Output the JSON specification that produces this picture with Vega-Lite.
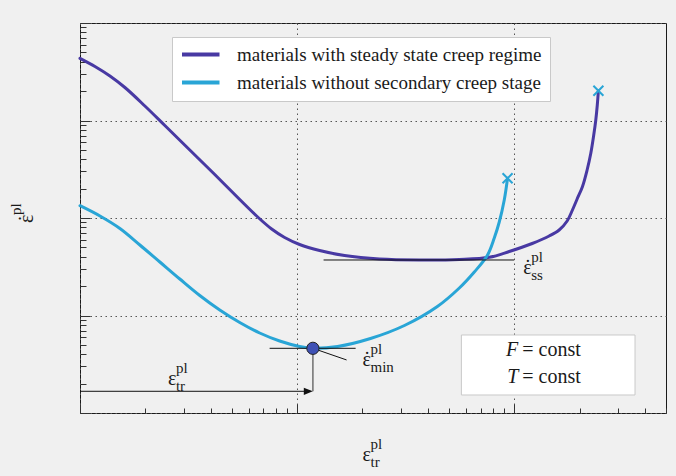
{
  "$schema": "https://vega.github.io/schema/vega-lite/v6.json",
  "width": 586,
  "height": 390,
  "autosize": {"type": "none"},
  "padding": {"left": 80, "top": 23, "right": 10, "bottom": 63},
  "background": "#f0f0f0",
  "config": {
    "view": {"stroke": "#1a1a1a", "strokeWidth": 1},
    "font": "Liberation Serif"
  },
  "datasets": {
    "curves": [
      {"series": "materials with steady state creep regime", "x": 1, "y": 4.3446},
      {"series": "materials with steady state creep regime", "x": 1.1721, "y": 3.5797},
      {"series": "materials with steady state creep regime", "x": 1.3738, "y": 2.8603},
      {"series": "materials with steady state creep regime", "x": 1.6103, "y": 2.18},
      {"series": "materials with steady state creep regime", "x": 1.9901, "y": 1.4084},
      {"series": "materials with steady state creep regime", "x": 2.4593, "y": 0.8886},
      {"series": "materials with steady state creep regime", "x": 3.2044, "y": 0.4982},
      {"series": "materials with steady state creep regime", "x": 4.1754, "y": 0.2794},
      {"series": "materials with steady state creep regime", "x": 5.4404, "y": 0.1548},
      {"series": "materials with steady state creep regime", "x": 6.5822, "y": 0.1024},
      {"series": "materials with steady state creep regime", "x": 7.6342, "y": 0.07712},
      {"series": "materials with steady state creep regime", "x": 8.7605, "y": 0.0631},
      {"series": "materials with steady state creep regime", "x": 10.268, "y": 0.05348},
      {"series": "materials with steady state creep regime", "x": 12.69, "y": 0.04642},
      {"series": "materials with steady state creep regime", "x": 16.535, "y": 0.04125},
      {"series": "materials with steady state creep regime", "x": 23.95, "y": 0.03797},
      {"series": "materials with steady state creep regime", "x": 36.578, "y": 0.03709},
      {"series": "materials with steady state creep regime", "x": 55.863, "y": 0.03753},
      {"series": "materials with steady state creep regime", "x": 76.747, "y": 0.03953},
      {"series": "materials with steady state creep regime", "x": 94.844, "y": 0.04533},
      {"series": "materials with steady state creep regime", "x": 120.99, "y": 0.05476},
      {"series": "materials with steady state creep regime", "x": 144.85, "y": 0.06537},
      {"series": "materials with steady state creep regime", "x": 161.03, "y": 0.07532},
      {"series": "materials with steady state creep regime", "x": 175.26, "y": 0.09316},
      {"series": "materials with steady state creep regime", "x": 185.38, "y": 0.1208},
      {"series": "materials with steady state creep regime", "x": 194.83, "y": 0.1566},
      {"series": "materials with steady state creep regime", "x": 206.07, "y": 0.2094},
      {"series": "materials with steady state creep regime", "x": 216.59, "y": 0.3107},
      {"series": "materials with steady state creep regime", "x": 225.24, "y": 0.4609},
      {"series": "materials with steady state creep regime", "x": 232.02, "y": 0.6935},
      {"series": "materials with steady state creep regime", "x": 237.48, "y": 1.0119},
      {"series": "materials with steady state creep regime", "x": 241.28, "y": 1.442},
      {"series": "materials with steady state creep regime", "x": 244.11, "y": 2.0213},
      {"series": "materials without secondary creep stage", "x": 1, "y": 0.1337},
      {"series": "materials without secondary creep stage", "x": 1.2358, "y": 0.10483},
      {"series": "materials without secondary creep stage", "x": 1.5272, "y": 0.07804},
      {"series": "materials without secondary creep stage", "x": 1.8873, "y": 0.052854},
      {"series": "materials without secondary creep stage", "x": 2.3325, "y": 0.035377},
      {"series": "materials without secondary creep stage", "x": 2.8825, "y": 0.023679},
      {"series": "materials without secondary creep stage", "x": 3.5622, "y": 0.016037},
      {"series": "materials without secondary creep stage", "x": 4.4023, "y": 0.011387},
      {"series": "materials without secondary creep stage", "x": 5.4404, "y": 0.0084764},
      {"series": "materials without secondary creep stage", "x": 6.7234, "y": 0.0066147},
      {"series": "materials without secondary creep stage", "x": 8.3088, "y": 0.0054759},
      {"series": "materials without secondary creep stage", "x": 10.268, "y": 0.0048089},
      {"series": "materials without secondary creep stage", "x": 11.821, "y": 0.0046085},
      {"series": "materials without secondary creep stage", "x": 15.353, "y": 0.0048089},
      {"series": "materials without secondary creep stage", "x": 21.774, "y": 0.005809},
      {"series": "materials without secondary creep stage", "x": 31.207, "y": 0.0078966},
      {"series": "materials without secondary creep stage", "x": 44.256, "y": 0.012369},
      {"series": "materials without secondary creep stage", "x": 55.863, "y": 0.019145},
      {"series": "materials without secondary creep stage", "x": 65.477, "y": 0.027937},
      {"series": "materials without secondary creep stage", "x": 75.138, "y": 0.041246},
      {"series": "materials without secondary creep stage", "x": 80.919, "y": 0.062355},
      {"series": "materials without secondary creep stage", "x": 85.316, "y": 0.090985},
      {"series": "materials without secondary creep stage", "x": 89.954, "y": 0.15298},
      {"series": "materials without secondary creep stage", "x": 93.153, "y": 0.25538}
    ],
    "guides": [
      {"name": "steady state level", "x": 13.24, "x2": 100, "y": 0.03709, "y2": 0.03709},
      {"name": "minimum level", "x": 7.47, "x2": 18.6, "y": 0.0046085, "y2": 0.0046085},
      {"name": "minimum pointer", "x": 11.821, "x2": 16.9, "y": 0.0046085, "y2": 0.0035},
      {"name": "transition strain", "x": 1, "x2": 11.5, "y": 0.00167, "y2": 0.00167}
    ],
    "drop": [
      {"x": 11.821, "x2": 11.821, "y": 0.0046085, "y2": 0.00167}
    ],
    "arrowhead": [{"x": 11.26, "y": 0.00167}],
    "ends": [
      {"series": "materials with steady state creep regime", "x": 244.11, "y": 2.0213},
      {"series": "materials without secondary creep stage", "x": 93.153, "y": 0.25538}
    ],
    "minimum": [{"x": 11.821, "y": 0.0046085}],
    "labels": [
      {"main": "ε", "dot": "˙", "sup": "pl", "sub": "ss", "x": 110.0, "y": 0.0266},
      {"main": "ε", "dot": "˙", "sup": "pl", "sub": "min", "x": 20.0, "y": 0.00303},
      {"main": "ε", "dot": "", "sup": "pl", "sub": "tr", "x": 2.54, "y": 0.00194},
      {"main": "ε", "dot": "", "sup": "pl", "sub": "tr", "x": 20.0, "y": 0.000322}
    ],
    "ytitle": [{"main": "ε", "dot": "˙", "sup": "pl", "x": 0.608, "y": 0.0889}],
    "box": [{"x": 57.1, "x2": 360, "y": 0.00631, "y2": 0.00153}],
    "boxtext": [
      {"var": "F", "rest": "= const", "x": 106.6, "y": 0.00384},
      {"var": "T", "rest": "= const", "x": 106.6, "y": 0.00203}
    ]
  },
  "encoding": {
    "x": {
      "field": "x",
      "type": "quantitative",
      "scale": {"type": "log", "domain": [1, 500], "nice": false},
      "axis": {
        "title": null,
        "labels": false,
        "domain": false,
        "values": [1, 2, 3, 4, 5, 6, 7, 8, 9, 10, 20, 30, 40, 50, 60, 70, 80, 90, 100, 200, 300, 400, 500],
        "tickColor": "#333333",
        "tickWidth": 1,
        "tickSize": {"condition": {"test": "abs(log(datum.value)/LN10 - round(log(datum.value)/LN10)) < 0.001", "value": -9}, "value": -5},
        "grid": true,
        "gridColor": "#555555",
        "gridWidth": 1,
        "gridDash": [1.5, 3.5],
        "gridOpacity": {"condition": {"test": "abs(log(datum.value)/LN10 - round(log(datum.value)/LN10)) < 0.001", "value": 1}, "value": 0}
      }
    },
    "y": {
      "field": "y",
      "type": "quantitative",
      "scale": {"type": "log", "domain": [0.001, 10], "nice": false},
      "axis": {
        "title": null,
        "labels": false,
        "domain": false,
        "values": [0.001, 0.002, 0.003, 0.004, 0.005, 0.006, 0.007, 0.008, 0.009, 0.01, 0.02, 0.03, 0.04, 0.05, 0.06, 0.07, 0.08, 0.09, 0.1, 0.2, 0.3, 0.4, 0.5, 0.6, 0.7, 0.8, 0.9, 1, 2, 3, 4, 5, 6, 7, 8, 9, 10],
        "tickColor": "#333333",
        "tickWidth": 1,
        "tickSize": {"condition": {"test": "abs(log(datum.value)/LN10 - round(log(datum.value)/LN10)) < 0.001", "value": -10}, "value": -6},
        "grid": true,
        "gridColor": "#555555",
        "gridWidth": 1,
        "gridDash": [1.5, 3.5],
        "gridOpacity": {"condition": {"test": "abs(log(datum.value)/LN10 - round(log(datum.value)/LN10)) < 0.001", "value": 1}, "value": 0}
      }
    }
  },
  "layer": [
    {
      "data": {"name": "curves"},
      "mark": {"type": "line", "strokeWidth": 3, "interpolate": "catmull-rom", "strokeCap": "round"},
      "encoding": {
        "color": {
          "field": "series",
          "type": "nominal",
          "scale": {
            "domain": ["materials with steady state creep regime", "materials without secondary creep stage"],
            "range": ["#4839a3", "#29a5d6"]
          },
          "legend": {
            "title": null,
            "orient": "none",
            "legendX": 92,
            "legendY": 14,
            "direction": "vertical",
            "fillColor": "#ffffff",
            "strokeColor": "#c9c9c9",
            "padding": 8,
            "symbolType": "M-1,0H4",
            "symbolSize": 225,
            "symbolStrokeWidth": 4,
            "labelFont": "Liberation Serif",
            "labelFontSize": 19,
            "labelColor": "#1a1a1a",
            "labelOffset": 38,
            "labelLimit": 500,
            "rowPadding": 8
          }
        }
      }
    },
    {
      "data": {"name": "guides"},
      "mark": {"type": "rule", "color": "#111111", "strokeWidth": 1},
      "encoding": {"x2": {"field": "x2"}, "y2": {"field": "y2"}}
    },
    {
      "data": {"name": "drop"},
      "mark": {"type": "rule", "color": "#777777", "strokeWidth": 1.6},
      "encoding": {"x2": {"field": "x2"}, "y2": {"field": "y2"}}
    },
    {
      "data": {"name": "arrowhead"},
      "mark": {"type": "point", "shape": "M-1,-0.8L1,0L-1,0.8Z", "filled": true, "color": "#111111", "size": 81, "opacity": 1}
    },
    {
      "data": {"name": "ends"},
      "mark": {"type": "point", "shape": "M-1,-1L1,1M-1,1L1,-1", "filled": false, "stroke": "#29a5d6", "strokeWidth": 2, "size": 100, "opacity": 1}
    },
    {
      "data": {"name": "minimum"},
      "mark": {"type": "point", "shape": "circle", "filled": true, "fill": "#3f51b5", "stroke": "#222222", "strokeWidth": 1, "size": 150, "opacity": 1}
    },
    {
      "data": {"name": "labels"},
      "mark": {"type": "text", "font": "Liberation Serif", "fontSize": 20, "align": "left", "baseline": "alphabetic", "color": "#1a1a1a"},
      "encoding": {"text": {"field": "main"}}
    },
    {
      "data": {"name": "labels"},
      "mark": {"type": "text", "font": "Liberation Serif", "fontSize": 20, "align": "center", "baseline": "alphabetic", "color": "#1a1a1a", "dx": 4.5},
      "encoding": {"text": {"field": "dot"}}
    },
    {
      "data": {"name": "labels"},
      "mark": {"type": "text", "font": "Liberation Serif", "fontSize": 15, "align": "left", "baseline": "alphabetic", "color": "#1a1a1a", "dx": 8, "dy": -12},
      "encoding": {"text": {"field": "sup"}}
    },
    {
      "data": {"name": "labels"},
      "mark": {"type": "text", "font": "Liberation Serif", "fontSize": 15, "align": "left", "baseline": "alphabetic", "color": "#1a1a1a", "dx": 8, "dy": 6},
      "encoding": {"text": {"field": "sub"}}
    },
    {
      "data": {"name": "ytitle"},
      "mark": {"type": "text", "font": "Liberation Serif", "fontSize": 20, "align": "left", "baseline": "alphabetic", "color": "#1a1a1a", "angle": 270},
      "encoding": {"text": {"field": "main"}}
    },
    {
      "data": {"name": "ytitle"},
      "mark": {"type": "text", "font": "Liberation Serif", "fontSize": 20, "align": "center", "baseline": "alphabetic", "color": "#1a1a1a", "angle": 270, "dx": 4.5},
      "encoding": {"text": {"field": "dot"}}
    },
    {
      "data": {"name": "ytitle"},
      "mark": {"type": "text", "font": "Liberation Serif", "fontSize": 15, "align": "left", "baseline": "alphabetic", "color": "#1a1a1a", "angle": 270, "dx": 8, "dy": -12},
      "encoding": {"text": {"field": "sup"}}
    },
    {
      "data": {"name": "box"},
      "mark": {"type": "rect", "fill": "#ffffff", "stroke": "#c9c9c9", "strokeWidth": 1},
      "encoding": {"x2": {"field": "x2"}, "y2": {"field": "y2"}}
    },
    {
      "data": {"name": "boxtext"},
      "mark": {"type": "text", "font": "Liberation Serif", "fontSize": 20, "fontStyle": "italic", "align": "right", "baseline": "alphabetic", "color": "#1a1a1a", "dx": -2},
      "encoding": {"text": {"field": "var"}}
    },
    {
      "data": {"name": "boxtext"},
      "mark": {"type": "text", "font": "Liberation Serif", "fontSize": 20, "align": "left", "baseline": "alphabetic", "color": "#1a1a1a", "dx": 2},
      "encoding": {"text": {"field": "rest"}}
    }
  ]
}
